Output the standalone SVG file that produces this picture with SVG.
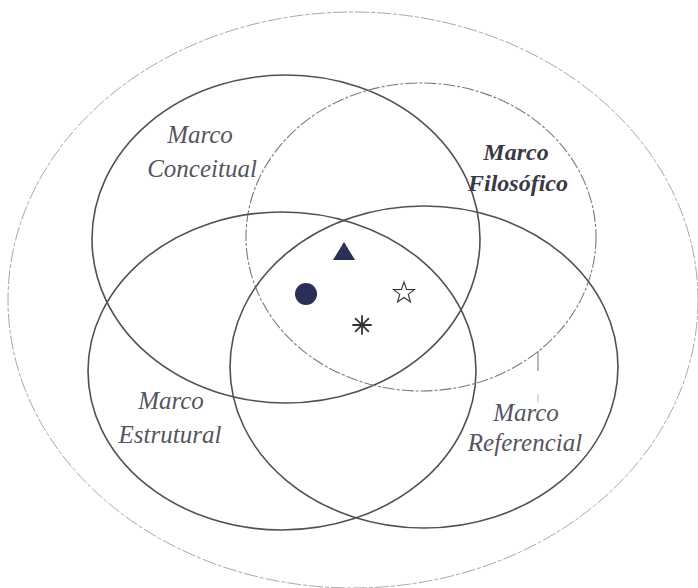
<svg xmlns="http://www.w3.org/2000/svg" width="698" height="588" viewBox="0 0 698 588">
<style>
.outer{fill:none;stroke:#a8a8a8;stroke-width:1;stroke-dasharray:14 2 4 2}
.ring{fill:none;stroke:#505058;stroke-width:1.6}
.ring2{fill:none;stroke:#7a7a80;stroke-width:1.1;stroke-dasharray:12 2 3 2}
.lbl{font-family:"Liberation Serif","DejaVu Serif",serif;font-style:italic;font-size:25px;fill:#55555f;text-anchor:middle}
.bold{fill:#3a3a45;font-weight:bold;font-size:24px}
.sym{fill:#2a2f55}
.tick{stroke:#777;stroke-width:1}
</style>
<rect width="698" height="588" fill="#ffffff"/>
<g id="outer"><ellipse class="outer" cx="353" cy="300" rx="345" ry="288"/></g>
<g id="connectors">
<line class="tick" x1="538" y1="351" x2="538" y2="371"/>
<line class="tick" x1="538" y1="394" x2="538" y2="403" stroke-opacity="0.5"/>
</g>
<g id="conceitual">
<ellipse class="ring" cx="286" cy="239" rx="194" ry="164"/>
<text class="lbl" x="200" y="143">Marco</text>
<text class="lbl" x="202" y="177">Conceitual</text>
</g>
<g id="filosofico">
<ellipse class="ring2" cx="421" cy="237" rx="175" ry="154"/>
<text class="lbl bold" x="516" y="160">Marco</text>
<text class="lbl bold" x="518" y="191">Filosófico</text>
</g>
<g id="estrutural">
<ellipse class="ring" cx="282" cy="371" rx="194" ry="159"/>
<text class="lbl" x="171" y="409">Marco</text>
<text class="lbl" x="170" y="443">Estrutural</text>
</g>
<g id="referencial">
<ellipse class="ring" cx="424" cy="367" rx="194" ry="161"/>
<text class="lbl" x="526" y="421">Marco</text>
<text class="lbl" x="525" y="451">Referencial</text>
</g>
<g id="symbols">
<polygon class="sym" points="333,260 344,242 355,260"/>
<circle class="sym" cx="306" cy="294" r="11"/>
<polygon fill="none" stroke="#333" stroke-width="1.1" points="404,282 406.6,289.4 414.5,289.6 408.2,294.4 410.5,302 404,297.5 397.5,302 399.8,294.4 393.5,289.6 401.4,289.4"/>
<g stroke="#333" stroke-width="1.8" stroke-linecap="round">
<line x1="362" y1="316" x2="362" y2="334"/>
<line x1="353" y1="325" x2="371" y2="325"/>
<line x1="355.6" y1="318.6" x2="368.4" y2="331.4"/>
<line x1="368.4" y1="318.6" x2="355.6" y2="331.4"/>
</g>
</g>
</svg>
